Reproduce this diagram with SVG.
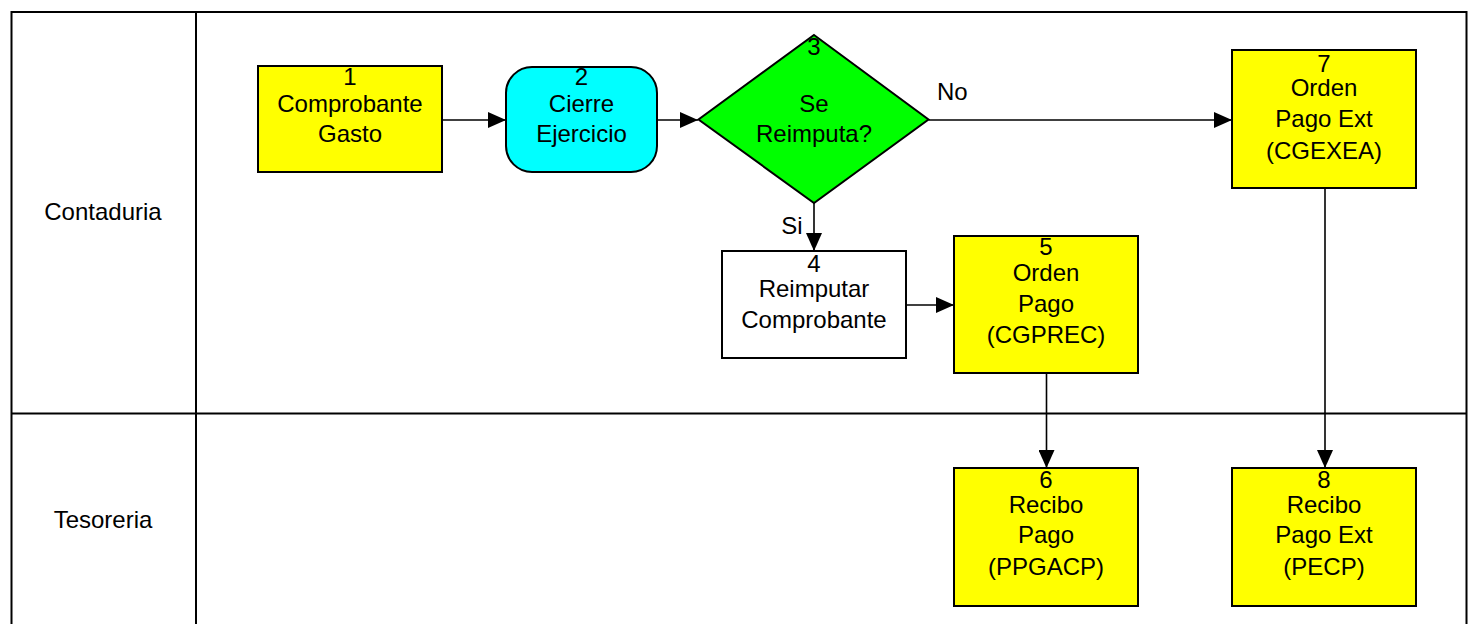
<svg xmlns="http://www.w3.org/2000/svg" width="1472" height="624" viewBox="0 0 1472 624">
<defs>
<style>
.frame{fill:none;stroke:#000;stroke-width:2}
.box{stroke:#000;stroke-width:2}
.y{fill:#ffff00}
.t{font-family:"Liberation Sans",Arial,sans-serif;font-size:24px;fill:#000;text-anchor:middle}
.conn line{stroke:#000;stroke-width:1.6;marker-end:url(#ah)}
</style>
<marker id="ah" markerWidth="18" markerHeight="16" refX="18" refY="8" orient="auto" markerUnits="userSpaceOnUse">
<path d="M0,0 L18,8 L0,16 Z" fill="#000"/>
</marker>
</defs>
<rect width="1472" height="624" fill="#fff"/>
<g id="lanes">
<path class="frame" d="M11.5,630 V12 H1466.5 V630"/>
<line class="frame" x1="196" y1="12" x2="196" y2="630"/>
<line class="frame" x1="11.5" y1="413.5" x2="1466.5" y2="413.5"/>
<text class="t" x="103" y="220">Contaduria</text>
<text class="t" x="103" y="528">Tesoreria</text>
</g>
<g id="n1">
<rect class="box y" x="258" y="66" width="184" height="106"/>
<text class="t" x="350" y="85">1</text>
<text class="t" x="350" y="112">Comprobante</text>
<text class="t" x="350" y="142">Gasto</text>
</g>
<g id="n2">
<rect class="box" fill="#00ffff" x="506" y="67" width="151" height="105" rx="26" ry="26"/>
<text class="t" x="581.5" y="85">2</text>
<text class="t" x="581.5" y="112">Cierre</text>
<text class="t" x="581.5" y="142">Ejercicio</text>
</g>
<g id="n3">
<polygon class="box" fill="#00ff00" points="814,35 928.5,119.5 814,203 698.5,119.5"/>
<text class="t" x="814" y="55">3</text>
<text class="t" x="814" y="112">Se</text>
<text class="t" x="814" y="142">Reimputa?</text>
</g>
<g id="n4">
<rect class="box" fill="#fff" x="722" y="251" width="184" height="107"/>
<text class="t" x="814" y="272">4</text>
<text class="t" x="814" y="297">Reimputar</text>
<text class="t" x="814" y="328">Comprobante</text>
</g>
<g id="n5">
<rect class="box y" x="954" y="236" width="184" height="137"/>
<text class="t" x="1046" y="255">5</text>
<text class="t" x="1046" y="281">Orden</text>
<text class="t" x="1046" y="312">Pago</text>
<text class="t" x="1046" y="343">(CGPREC)</text>
</g>
<g id="n6">
<rect class="box y" x="954" y="468" width="184" height="138"/>
<text class="t" x="1046" y="488">6</text>
<text class="t" x="1046" y="513">Recibo</text>
<text class="t" x="1046" y="543">Pago</text>
<text class="t" x="1046" y="575">(PPGACP)</text>
</g>
<g id="n7">
<rect class="box y" x="1232" y="50" width="184" height="138"/>
<text class="t" x="1324" y="72">7</text>
<text class="t" x="1324" y="96">Orden</text>
<text class="t" x="1324" y="127">Pago Ext</text>
<text class="t" x="1324" y="159">(CGEXEA)</text>
</g>
<g id="n8">
<rect class="box y" x="1232" y="468" width="184" height="138"/>
<text class="t" x="1324" y="488">8</text>
<text class="t" x="1324" y="513">Recibo</text>
<text class="t" x="1324" y="543">Pago Ext</text>
<text class="t" x="1324" y="575">(PECP)</text>
</g>
<g id="connectors" class="conn">
<line x1="442" y1="120" x2="506" y2="120"/>
<line x1="657" y1="120" x2="698" y2="120"/>
<line x1="928.5" y1="120" x2="1232" y2="120"/>
<line x1="814" y1="203" x2="814" y2="251"/>
<line x1="906" y1="305" x2="954" y2="305"/>
<line x1="1046.5" y1="373" x2="1046.5" y2="468"/>
<line x1="1325" y1="188" x2="1325" y2="468"/>
<text class="t" x="937" y="100" style="text-anchor:start">No</text>
<text class="t" x="792" y="234">Si</text>
</g>
</svg>
